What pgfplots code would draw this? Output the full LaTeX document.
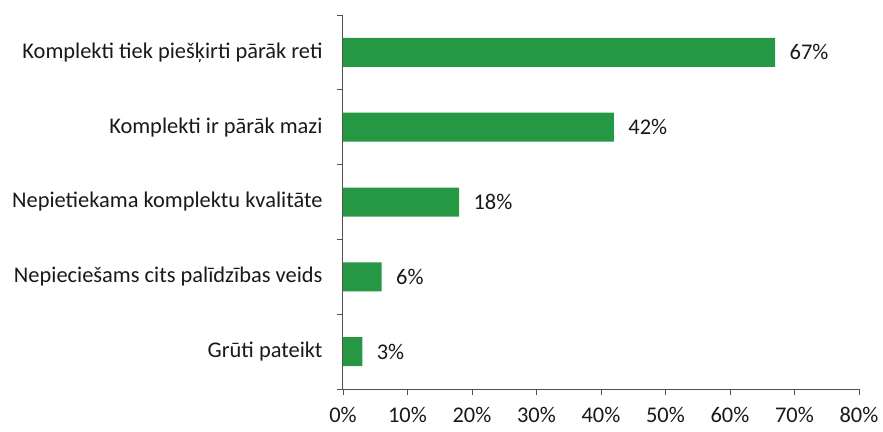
\documentclass[border=0pt]{standalone}
\usepackage{fontspec}
\setmainfont{Carlito}
\usepackage{pgfplots}
\pgfplotsset{compat=1.18}
\definecolor{bargreen}{RGB}{38,152,68}
\definecolor{axgray}{RGB}{80,80,80}
\definecolor{txt}{RGB}{25,25,25}
\begin{document}
\begin{tikzpicture}
\path (-343bp,-43bp) rectangle (540bp,389bp);
\begin{axis}[
  scale only axis,
  width=516bp, height=374bp,
  xmin=0, xmax=80, ymin=-0.5, ymax=4.5,
  axis x line*=bottom, axis y line*=left,
  axis line style={axgray, line width=1pt},
  xtick={0,10,...,80},
  xticklabel={\pgfmathprintnumber{\tick}\%},
  /pgf/number format/assume math mode=true,
  ytick={-0.5,0.5,...,4.5},
  yticklabels={},
  extra y ticks={0,1,2,3,4},
  extra y tick labels={Grūti pateikt, Nepieciešams cits palīdzības veids, Nepietiekama komplektu kvalitāte, Komplekti ir pārāk mazi, Komplekti tiek piešķirti pārāk reti},
  extra y tick style={major tick length=0pt, yticklabel style={xshift=-17bp, font=\fontsize{22.5}{26}\selectfont}},
  tick align=outside,
  major tick length=6bp,
  every tick/.style={axgray, line width=0.8pt},
  tick label style={font=\fontsize{22.5}{26}\selectfont, text=txt},
  xticklabel style={inner sep=1bp, yshift=-11bp},
  xbar, bar width=29bp,
  nodes near coords={\pgfmathprintnumber{\pgfplotspointmeta}\%},
  nodes near coords style={font=\fontsize{22.5}{26}\selectfont, text=txt, anchor=west, xshift=11bp},
  point meta=x,
  clip=false,
]
\addplot[fill=bargreen, draw=none] coordinates {(3,0) (6,1) (18,2) (42,3) (67,4)};
\end{axis}
\end{tikzpicture}
\end{document}
